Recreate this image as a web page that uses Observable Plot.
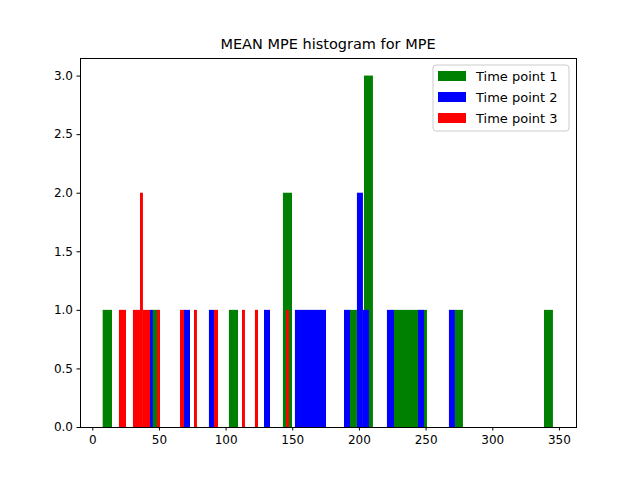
<!DOCTYPE html>
<html><head><meta charset="utf-8">
<script src="https://cdn.jsdelivr.net/npm/d3@7"></script>
<script src="https://cdn.jsdelivr.net/npm/@observablehq/plot@0.6"></script>
<style>body{margin:0;background:#fff}#c{position:relative;width:640px;height:480px}</style>
</head><body><div id="c"></div>
<script>
// bins: [x1, x2, count]
const tp1 = [[7.8,14.8,1],[45.5,50.0,1],[102.5,109.3,1],[143.0,149.8,2],[193.3,198.5,1],[203.8,210.5,3],[226.3,244.3,1],[248.8,251.0,1],[272.0,278.0,1],[338.8,345.5,1]];
const tp2 = [[43.3,45.5,1],[68.8,73.3,1],[87.5,91.3,1],[128.8,133.3,1],[152.0,175.3,1],[188.8,193.3,1],[198.5,203.0,2],[203.0,207.5,1],[221.0,226.3,1],[244.3,248.8,1],[267.5,272.0,1]];
const tp3 = [[20.0,25.3,1],[30.5,35.8,1],[35.8,38.0,2],[38.0,43.3,1],[48.5,50.8,1],[65.8,68.8,1],[76.3,78.5,1],[91.3,94.3,1],[112.3,114.5,1],[122.0,124.3,1],[145.3,147.5,1]];
const series = [["Time point 1", "green", tp1], ["Time point 2", "blue", tp2], ["Time point 3", "red", tp3]];
const xTicks = [0, 50, 100, 150, 200, 250, 300, 350];
const yTicks = [0, 0.5, 1.0, 1.5, 2.0, 2.5, 3.0];

const chart = Plot.plot({
  width: 640, height: 480,
  marginLeft: 80, marginRight: 64, marginTop: 58, marginBottom: 53,
  style: {fontFamily: "DejaVu Sans", fontSize: "12px", color: "#000"},
  x: {domain: [-9.2, 362.8], label: null},
  y: {domain: [0, 3.15], label: null},
  marks: [
    ...series.map(([name, color, bins]) => Plot.rectY(bins, {x1: d => d[0], x2: d => d[1], y1: 0, y2: d => d[2], fill: color})),
    Plot.frame({stroke: "#000"}),
    Plot.axisX({ticks: xTicks, tickSize: 3.5, tickPadding: 4, fontSize: 12}),
    Plot.axisY({ticks: yTicks, tickSize: 3.5, tickPadding: 4, fontSize: 12, tickFormat: d3.format(".1f")})
  ]
});
const svg = d3.select(chart);
svg.append("text").attr("x", 328).attr("y", 49).attr("text-anchor", "middle")
  .attr("font-size", 14.5).attr("font-family", "DejaVu Sans").text("MEAN MPE histogram for MPE");
const lg = svg.append("g").attr("transform", "translate(433,65)");
lg.append("rect").attr("width", 136).attr("height", 66).attr("rx", 3)
  .attr("fill", "#fff").attr("fill-opacity", 0.8).attr("stroke", "#ccc");
series.forEach(([name, color], i) => {
  lg.append("rect").attr("x", 5).attr("y", 6 + i * 21).attr("width", 28).attr("height", 10).attr("fill", color);
  lg.append("text").attr("x", 43).attr("y", 16 + i * 21).attr("font-size", 13).attr("text-anchor", "start")
    .attr("font-family", "DejaVu Sans").attr("fill", "#000").text(name);
});
document.getElementById("c").append(chart);
</script></body></html>
